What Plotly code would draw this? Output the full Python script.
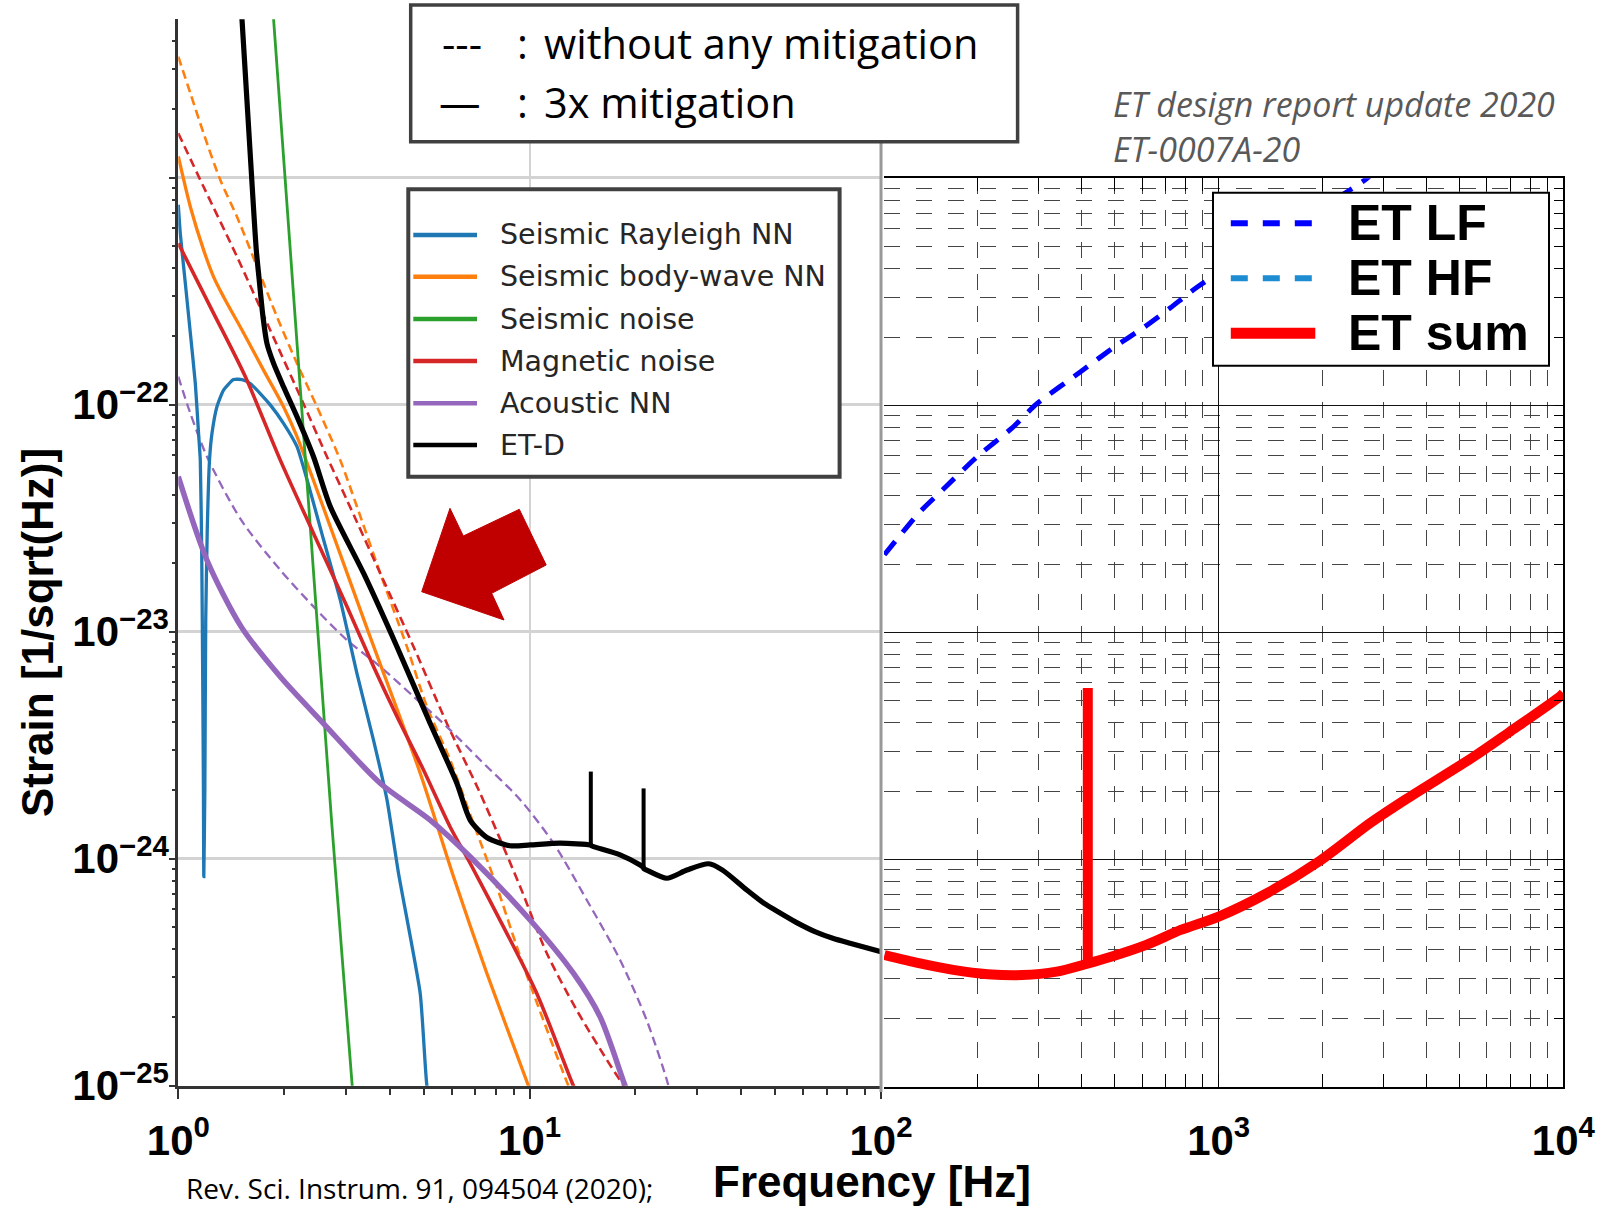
import plotly.graph_objects as go

W, H = 1601, 1207

# ---------------- data: frequency [Hz], strain [1/sqrt(Hz)] ----------------
# left panel (Rev. Sci. Instrum. 91, 094504)
rayleigh_f = [1.0, 1.013, 1.047, 1.082, 1.118, 1.142, 1.155, 1.166, 1.174, 1.179, 1.182,
              1.190, 1.197, 1.209, 1.227, 1.247, 1.288, 1.345, 1.436, 1.518, 1.602, 1.711,
              1.827, 1.993, 2.177, 2.591, 2.890, 3.224, 3.594, 3.925, 4.234, 4.881, 5.100, 5.3]
rayleigh_h = [7.6e-22, 5.69e-22, 3.43e-22, 2.07e-22, 1.24e-22, 7.48e-23, 5.70e-23, 2.22e-23,
              5.70e-24, 2.01e-24, 8.34e-25, 2.01e-24, 1.13e-23, 2.81e-23, 5.70e-23, 7.48e-23,
              9.80e-23, 1.16e-22, 1.29e-22, 1.29e-22, 1.24e-22, 1.12e-22, 9.98e-23, 8.28e-23,
              6.53e-23, 2.54e-23, 1.38e-23, 6.56e-24, 3.33e-24, 1.82e-24, 8.63e-25, 2.55e-25,
              1.0e-25, 7.5e-26]

bodywave_f = [1.0, 1.082, 1.180, 1.260, 1.345, 1.534, 1.748, 1.993, 2.177, 3.478, 4.881,
              6.070, 7.553, 9.92, 10.3]
bodywave_h = [1.24e-21, 7.45e-22, 4.81e-22, 3.66e-22, 2.99e-22, 2.07e-22, 1.42e-22, 9.80e-23,
              7.23e-23, 9.93e-24, 2.38e-24, 8.34e-25, 3.13e-25, 1.0e-25, 8.5e-26]
bodywave_nomit_f = [1.0, 1.082, 1.180, 1.317, 1.469, 1.675, 1.909, 2.177, 2.481, 2.890, 3.224,
                    3.756, 4.473, 5.100, 5.940, 6.921, 8.066, 9.196, 10.25, 12.89, 13.5]
bodywave_nomit_h = [3.41e-21, 2.36e-21, 1.57e-21, 9.77e-22, 6.73e-22, 4.06e-22, 2.44e-22,
                    1.52e-22, 9.80e-23, 5.70e-23, 3.56e-23, 1.81e-23, 8.59e-24, 4.68e-24,
                    2.72e-24, 1.43e-24, 7.53e-25, 4.09e-25, 2.55e-25, 1.0e-25, 8.5e-26]

seismic_f = [1.85, 1.867, 2.290, 2.733, 3.126, 3.16]
seismic_h = [6.0e-21, 4.99e-21, 6.31e-23, 1.44e-24, 1.0e-25, 8.0e-26]

magnetic_f = [1.0, 1.247, 1.551, 1.951, 2.426, 3.020, 3.594, 4.191, 4.988, 5.940, 6.771,
              8.424, 10.48, 13.32, 14.0]
magnetic_h = [5.14e-22, 2.61e-22, 1.33e-22, 5.70e-23, 2.71e-23, 1.29e-23, 7.02e-24, 4.23e-24,
              2.46e-24, 1.38e-24, 9.55e-25, 5.01e-25, 2.55e-25, 1.0e-25, 8.5e-26]
magnetic_nomit_f = [1.0, 1.180, 1.469, 1.827, 2.272, 2.649, 3.020, 3.756, 4.672, 5.814, 7.232,
                    9.397, 11.19, 13.62, 16.58, 18.49, 19.2]
magnetic_nomit_h = [1.57e-21, 9.12e-22, 4.49e-22, 2.13e-22, 1.01e-22, 5.90e-23, 3.80e-23,
                    1.81e-23, 8.59e-24, 3.94e-24, 1.94e-24, 7.53e-25, 3.83e-25, 2.15e-25,
                    1.30e-25, 1.0e-25, 9.0e-26]

acoustic_f = [1.0, 1.206, 1.511, 1.951, 2.591, 3.756, 5.212, 6.771, 10.03, 13.32, 15.87,
              18.69, 19.5]
acoustic_h = [4.82e-23, 2.07e-23, 1.05e-23, 6.33e-24, 3.94e-24, 2.15e-24, 1.48e-24, 1.02e-24,
              5.37e-25, 3.13e-25, 2.01e-25, 1.0e-25, 8.5e-26]
acoustic_nomit_f = [1.0, 1.082, 1.207, 1.511, 1.951, 2.426, 3.020, 3.756, 4.672, 5.814, 7.232,
                    9.397, 11.69, 14.54, 18.09, 21.54, 24.57, 25.5]
acoustic_nomit_h = [1.33e-22, 9.16e-23, 5.90e-23, 3.10e-23, 1.87e-23, 1.29e-23, 9.18e-24,
                    7.02e-24, 5.18e-24, 3.81e-24, 2.72e-24, 1.82e-24, 1.17e-24, 6.58e-25,
                    3.58e-25, 1.94e-25, 1.06e-25, 8.5e-26]

etd_f = [1.50, 1.518, 1.568, 1.621, 1.667, 1.703, 1.742, 1.788, 1.867, 1.993, 2.177, 2.426,
         2.707, 3.367, 4.191, 5.212, 6.207, 6.771, 7.553, 8.801, 10.03, 12.21, 14.86, 15.0,
         15.19, 18.09, 20.63, 21.0, 21.2, 21.54, 24.57, 28.01, 32.35, 35.4, 41.5, 46.4, 51.9,
         58.1, 65.1, 72.9, 81.6, 100.0]
etd_h = [6.8e-21, 4.99e-21, 2.20e-21, 9.44e-22, 4.81e-22, 3.43e-22, 2.44e-22, 1.86e-22,
         1.52e-22, 1.20e-22, 8.85e-23, 5.90e-23, 3.56e-23, 1.81e-23, 8.59e-24, 3.94e-24,
         2.15e-24, 1.48e-24, 1.24e-24, 1.14e-24, 1.15e-24, 1.17e-24, 1.15e-24, 1.14e-24,
         1.13e-24, 1.04e-24, 9.38e-25, 9.2e-25, 9.0e-25, 8.91e-25, 8.20e-25, 8.91e-25,
         9.5e-25, 8.91e-25, 7.28e-25, 6.37e-25, 5.74e-25, 5.19e-25, 4.76e-25, 4.46e-25,
         4.24e-25, 3.89e-25]
# narrow lines in ET-D (base, top)
etd_line1_f = [14.93, 14.93]
etd_line1_h = [1.15e-24, 2.42e-24]
etd_line2_f = [21.1, 21.1]
etd_line2_h = [9.1e-25, 2.04e-24]

# right panel (ET design report update 2020, ET-0007A-20)
et_lf_f = [107.2, 117.4, 134.9, 158.5, 199.5, 251.2, 295.2, 398.3, 501.0, 602.6, 724.4,
           870.9, 2371.0, 2662.0, 2900.0]
et_lf_h = [2.20e-23, 2.61e-23, 3.36e-23, 4.26e-23, 5.96e-23, 7.94e-23, 1.01e-22, 1.41e-22,
           1.82e-22, 2.19e-22, 2.69e-22, 3.34e-22, 8.77e-22, 9.86e-22, 1.1e-21]
et_sum_f = [107.2, 134.9, 169.8, 213.8, 268.9, 338.8, 416.0, 490.0, 616.4, 776.2, 1000.0,
            1380.0, 1950.0, 2754.0, 3467.0, 5495.0, 6913.0, 9768.0, 10000.0]
et_sum_h = [3.80e-25, 3.50e-25, 3.27e-25, 3.13e-25, 3.10e-25, 3.21e-25, 3.48e-25, 3.74e-25,
            4.21e-25, 4.90e-25, 5.61e-25, 7.11e-25, 9.79e-25, 1.45e-24, 1.83e-24, 2.84e-24,
            3.61e-24, 5.22e-24, 5.4e-24]
# narrow line in ET sum (base, top)
et_sum_line_f = [417.1, 417.1]
et_sum_line_h = [3.48e-25, 5.7e-24]

# ticks / labels
x_left_tickvals = [1, 10, 100]
x_left_ticktext = ["<b>10<sup>0</sup></b>", "<b>10<sup>1</sup></b>", "<b>10<sup>2</sup></b>"]
x_right_tickvals = [1000, 10000]
x_right_ticktext = ["<b>10<sup>3</sup></b>", "<b>10<sup>4</sup></b>"]
y_tickvals = [1e-25, 1e-24, 1e-23, 1e-22, 1e-21]
y_ticktext = ["<b>10<sup>\u221225</sup></b>", "<b>10<sup>\u221224</sup></b>",
              "<b>10<sup>\u221223</sup></b>", "<b>10<sup>\u221222</sup></b>", " "]

left_legend_names = ["Seismic Rayleigh NN", "Seismic body-wave NN", "Seismic noise",
                     "Magnetic noise", "Acoustic NN", "ET-D"]
right_legend_names = ["ET LF", "ET HF", "ET sum"]

# ---------------- styling ----------------
C_BLUE, C_ORANGE, C_GREEN = "#1f77b4", "#ff7f0e", "#2ca02c"
C_RED, C_PURPLE, C_BLACK = "#d62728", "#9467bd", "#000000"
LEFT_COLORS = [C_BLUE, C_ORANGE, C_GREEN, C_RED, C_PURPLE, C_BLACK]
ET_LF_C, ET_HF_C, ET_SUM_C = "#0000ff", "#1e8cd2", "#ff0000"
DASH = "9px,5px"
TICKFONT = dict(family="Liberation Sans, Arial, sans-serif", size=42, color="black")


def px(x):
    return x / W


def py(y):
    return 1 - y / H


fig = go.Figure()


def add(f, h, color, width, name, dash="solid", xa="x", ya="y", smooth=None):
    ln = dict(color=color, width=width, dash=dash)
    if smooth:
        ln.update(shape="spline", smoothing=smooth)
    fig.add_trace(go.Scatter(x=f, y=h, mode="lines", name=name, showlegend=False,
                             line=ln, xaxis=xa, yaxis=ya))


# dashed: without mitigation
add(bodywave_nomit_f, bodywave_nomit_h, C_ORANGE, 2.6, "Seismic body-wave NN (no mitigation)", DASH, smooth=0.8)
add(magnetic_nomit_f, magnetic_nomit_h, C_RED, 2.6, "Magnetic noise (no mitigation)", DASH, smooth=0.8)
add(acoustic_nomit_f, acoustic_nomit_h, C_PURPLE, 2.3, "Acoustic NN (no mitigation)", DASH, smooth=0.8)
# solid: 3x mitigation
add(rayleigh_f, rayleigh_h, C_BLUE, 3.3, "Seismic Rayleigh NN", smooth=0.5)
add(bodywave_f, bodywave_h, C_ORANGE, 3.3, "Seismic body-wave NN", smooth=0.8)
add(seismic_f, seismic_h, C_GREEN, 2.8, "Seismic noise", smooth=0.5)
add(magnetic_f, magnetic_h, C_RED, 3.6, "Magnetic noise", smooth=0.8)
add(acoustic_f, acoustic_h, C_PURPLE, 5.5, "Acoustic NN", smooth=0.8)
add(etd_f, etd_h, C_BLACK, 5.2, "ET-D", smooth=0.7)
add(etd_line1_f, etd_line1_h, C_BLACK, 4, "ET-D")
add(etd_line2_f, etd_line2_h, C_BLACK, 4, "ET-D")
# right panel
add(et_lf_f, et_lf_h, ET_LF_C, 5, "ET LF", "17px,12px", "x2", "y2", smooth=0.6)
add(et_sum_f, et_sum_h, ET_SUM_C, 10, "ET sum", "solid", "x2", "y2", smooth=0.8)
add(et_sum_line_f, et_sum_line_h, ET_SUM_C, 10, "ET sum", "solid", "x2", "y2")

minor_x_left = [m * 10 ** d for d in (0, 1) for m in range(2, 10)]
minor_y_left = [m * 10.0 ** e for e in range(-25, -20) for m in range(2, 10)]
minor_x_right = [m * 10 ** d for d in (2, 3) for m in range(2, 10)]
minor_y_right = [m * 10.0 ** e for e in range(-25, -21) for m in range(2, 10)]

L_X0, L_X1, L_Y0, L_Y1 = 178.3, 881.0, 1085.7, 19.3
R_X0, R_X1, R_Y0, R_Y1 = 884.0, 1563.4, 1086.7, 178.3

fig.update_layout(
    template="none",
    width=W, height=H, autosize=False,
    margin=dict(l=0, r=0, t=0, b=0, pad=0),
    paper_bgcolor="white", plot_bgcolor="white",
    showlegend=False,
    xaxis=dict(type="log", range=[0, 2], domain=[px(L_X0), px(L_X1)], anchor="y",
               automargin=False,
               showline=True, linecolor="#333333", linewidth=3,
               ticks="outside", ticklen=10, tickwidth=2, tickcolor="#333333",
               tickmode="array", tickvals=x_left_tickvals, ticktext=x_left_ticktext,
               tickfont=TICKFONT, ticklabelstandoff=6,
               showgrid=True, gridcolor="#d3d3d3", gridwidth=2, zeroline=False,
               minor=dict(tickmode="array", tickvals=minor_x_left, ticks="outside",
                          ticklen=6, tickwidth=1.5, tickcolor="#333333", showgrid=False)),
    yaxis=dict(type="log", range=[-25, -25 + (L_Y0 - L_Y1) / 227.0],
               domain=[py(L_Y0), py(L_Y1)], anchor="x", automargin=False,
               showline=True, linecolor="#333333", linewidth=3,
               ticks="outside", ticklen=6, tickwidth=2, tickcolor="#333333",
               tickmode="array", tickvals=y_tickvals, ticktext=y_ticktext,
               tickfont=TICKFONT, ticklabelstandoff=-8,
               showgrid=True, gridcolor="#d3d3d3", gridwidth=3, zeroline=False,
               minor=dict(tickmode="array", tickvals=minor_y_left, ticks="outside",
                          ticklen=3, tickwidth=1.5, tickcolor="#333333", showgrid=False)),
    xaxis2=dict(type="log", range=[2.029, 4], domain=[px(R_X0), px(R_X1)], anchor="y2",
                automargin=False,
                showline=True, linecolor="black", linewidth=1.5, mirror="ticks",
                ticks="inside", ticklen=13, tickwidth=1.2, tickcolor="black",
                tickmode="array", tickvals=x_right_tickvals, ticktext=x_right_ticktext,
                tickfont=TICKFONT, ticklabelstandoff=16,
                showgrid=True, gridcolor="#111111", gridwidth=1.2, zeroline=False,
                minor=dict(tickmode="array", tickvals=minor_x_right, ticks="inside",
                           ticklen=13, tickwidth=1.2, tickcolor="black", showgrid=True,
                           gridcolor="#444444", gridwidth=1.3, griddash="16px,16px")),
    yaxis2=dict(type="log", range=[-25, -21], domain=[py(R_Y0), py(R_Y1)], anchor="x2",
                automargin=False,
                side="right", showline=True, linecolor="black", linewidth=1.5,
                ticks="inside", ticklen=10, tickwidth=1.2, tickcolor="black",
                tickmode="array", tickvals=y_tickvals, showticklabels=False,
                showgrid=True, gridcolor="#111111", gridwidth=1.2, zeroline=False,
                minor=dict(tickmode="array", tickvals=minor_y_right, ticks="inside",
                           ticklen=10, tickwidth=1.2, tickcolor="black", showgrid=True,
                           gridcolor="#444444", gridwidth=1.3, griddash="16px,16px")),
)

shapes = []
# right spine of the left panel
shapes.append(dict(type="line", xref="paper", yref="paper", layer="above",
                   x0=px(881), x1=px(881), y0=py(19), y1=py(1092),
                   line=dict(color="#999999", width=3)))
# top mitigation box
shapes.append(dict(type="rect", xref="paper", yref="paper", layer="above",
                   x0=px(410.7), x1=px(1017.6), y0=py(141.7), y1=py(5),
                   line=dict(color="#404040", width=3.5), fillcolor="white"))
# left legend box
shapes.append(dict(type="rect", xref="paper", yref="paper", layer="above",
                   x0=px(408.3), x1=px(839.6), y0=py(476.7), y1=py(189.3),
                   line=dict(color="#404040", width=4), fillcolor="white"))
# right legend box
shapes.append(dict(type="rect", xref="paper", yref="paper", layer="above",
                   x0=px(1213), x1=px(1549), y0=py(365.7), y1=py(192.7),
                   line=dict(color="black", width=2), fillcolor="white"))
# red block arrow
arrow = [(421.7, 591.7), (450.0, 508.3), (463.3, 536.0), (519.3, 509.3),
         (546.2, 565.0), (491.7, 593.3), (504.0, 620.0)]
path = "M " + " L ".join(f"{px(x):.5f},{py(y):.5f}" for x, y in arrow) + " Z"
shapes.append(dict(type="path", xref="paper", yref="paper", layer="above", path=path,
                   fillcolor="#c00000", line=dict(color="#c00000", width=1)))

annotations = []


def text(x, y, s, size, family, color="black", xanchor="left", angle=0):
    annotations.append(dict(x=px(x), y=py(y), xref="paper", yref="paper", text=s,
                            showarrow=False, xanchor=xanchor, yanchor="middle",
                            textangle=angle,
                            font=dict(family=family, size=size, color=color)))


OPEN = "Open Sans, sans-serif"
LIB = "Liberation Sans, Arial, sans-serif"
DEJA = "DejaVu Sans, sans-serif"

# left legend entries
left_rows = [235.0, 276.7, 319.0, 361.0, 403.3, 445.0]
for name, color, yy in zip(left_legend_names, LEFT_COLORS, left_rows):
    shapes.append(dict(type="line", xref="paper", yref="paper", layer="above",
                       x0=px(413.3), x1=px(477), y0=py(yy), y1=py(yy),
                       line=dict(color=color, width=4.5)))
    text(497.6, yy, name, 28.5, DEJA, "#262626")

# right legend entries
right_rows = [223.3, 278.3, 333.3]
right_styles = [(ET_LF_C, 6, "17px,15px"), (ET_HF_C, 6, "17px,15px"), (ET_SUM_C, 11, "solid")]
for name, (color, wd, dsh), yy in zip(right_legend_names, right_styles, right_rows):
    shapes.append(dict(type="line", xref="paper", yref="paper", layer="above",
                       x0=px(1230.8), x1=px(1315.3), y0=py(yy), y1=py(yy),
                       line=dict(color=color, width=wd, dash=dsh)))
    text(1345.7, yy, f"<b>{name}</b>", 50, LIB)

# mitigation box texts
text(461.5, 43, "---", 41.5, OPEN, xanchor="center")
text(522.4, 43, ":", 41.5, OPEN, xanchor="center")
text(541.7, 43, "without any mitigation", 41.5, OPEN)
text(460.5, 102, "\u2014", 41.5, OPEN, xanchor="center")
text(522.4, 102, ":", 41.5, OPEN, xanchor="center")
text(541.7, 102, "3x mitigation", 41.5, OPEN)

# reference notes
text(1111, 104.3, "<i>ET design report update 2020</i>", 34, OPEN, "#595959")
text(1111, 149.3, "<i>ET-0007A-20</i>", 34, OPEN, "#595959")
text(184, 1187.5, "Rev. Sci. Instrum. 91, 094504 (2020);", 28, OPEN)

# axis titles
text(872.3, 1181.5, "<b>Frequency [Hz]</b>", 44, LIB, xanchor="center")
text(37, 633, "<b>Strain [1/sqrt(Hz)]</b>", 44, LIB, xanchor="center", angle=-90)

fig.update_layout(shapes=shapes, annotations=annotations)
fig.write_html("out.html")
